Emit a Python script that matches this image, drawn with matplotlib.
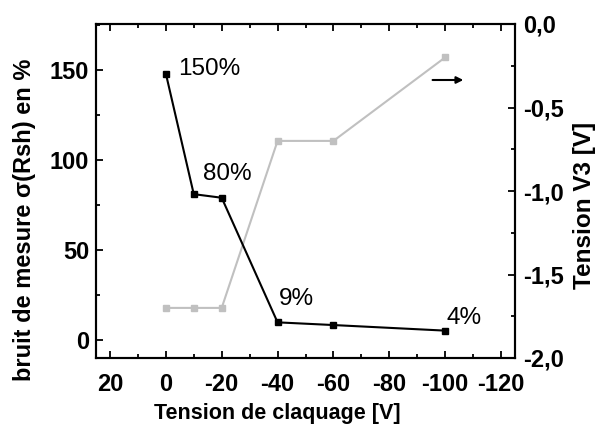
import matplotlib
matplotlib.use('Agg')
import matplotlib.pyplot as plt
from matplotlib.ticker import MultipleLocator, FuncFormatter

plt.rcParams['font.family'] = ['Liberation Sans', 'DejaVu Sans']
plt.rcParams['axes.unicode_minus'] = False

# data
tension = [0, -10, -20, -40, -60, -100]
bruit = [148, 81, 79, 9.8, 8.3, 5.2]
v3 = [-1.70, -1.70, -1.70, -0.70, -0.70, -0.20]
labels = ['150%', '80%', '9%', '4%']
label_pos = [(0, 148), (-20, 79), (-40, 9.8), (-100, 5.2)]

fig = plt.figure(figsize=(5.97, 4.24), dpi=100)
ax = fig.add_axes([96/597, 1 - 358/424, (515-96)/597, (358-24)/424])
ax2 = ax.twinx()

ax.plot(tension, bruit, color='black', lw=1.5, marker='s', ms=4.5, zorder=3)
ax2.plot(tension, v3, color='#c0c0c0', lw=1.5, marker='s', ms=4.5, zorder=2)

ax.set_xlim(25, -125)
ax.set_ylim(-10, 175.5)
ax2.set_ylim(-2.0, 0.0)

ax.xaxis.set_major_locator(MultipleLocator(20))
ax.xaxis.set_minor_locator(MultipleLocator(10))
ax.yaxis.set_major_locator(MultipleLocator(50))
ax.yaxis.set_minor_locator(MultipleLocator(25))
ax2.yaxis.set_major_locator(MultipleLocator(0.5))
ax2.yaxis.set_minor_locator(MultipleLocator(0.25))
ax2.yaxis.set_major_formatter(FuncFormatter(lambda v, p: f'{v:.1f}'.replace('.', ',')))

for a in (ax, ax2):
    for s in a.spines.values():
        s.set_linewidth(1.5)
ax.tick_params(which='both', direction='in', top=True, width=1.3, labelsize=17)
ax.tick_params(axis='x', which='both', pad=10.5)
ax.tick_params(axis='y', which='both', pad=5)
ax.tick_params(which='major', length=5)
ax.tick_params(which='minor', length=3)
ax2.tick_params(which='both', direction='in', width=1.3, labelsize=17, pad=6)
ax2.tick_params(which='major', length=5)
ax2.tick_params(which='minor', length=3)
for t in ax.get_xticklabels() + ax.get_yticklabels() + ax2.get_yticklabels():
    t.set_fontweight('bold')

ax.set_xlabel('Tension de claquage [V]', fontsize=15.5, fontweight='bold')
ax.set_ylabel('bruit de mesure σ(Rsh) en %', fontsize=17, fontweight='bold')
ax2.set_ylabel('Tension V3 [V]', fontsize=17.5, fontweight='bold')
ax.xaxis.set_label_coords(0.432, -0.135)
ax.yaxis.set_label_coords(-0.143, 0.413)
ax2.yaxis.set_label_coords(1.138, 0.457)

offsets = [(12, 5), (-19, 24), (1, 23), (1, 13)]
for txt, (x, y), (dx, dy) in zip(labels, label_pos, offsets):
    ax.annotate(txt, (x, y), xytext=(dx, dy), textcoords='offset pixels',
                fontsize=17.5, ha='left', va='center')

ax.annotate('', xy=(-107.5, 144.4), xytext=(-94.5, 144.4),
            arrowprops=dict(arrowstyle='-|>', color='black', lw=1.5, mutation_scale=10))

ax.set_zorder(ax2.get_zorder() + 1)
ax.patch.set_visible(False)

fig.savefig('out.png', dpi=100)
